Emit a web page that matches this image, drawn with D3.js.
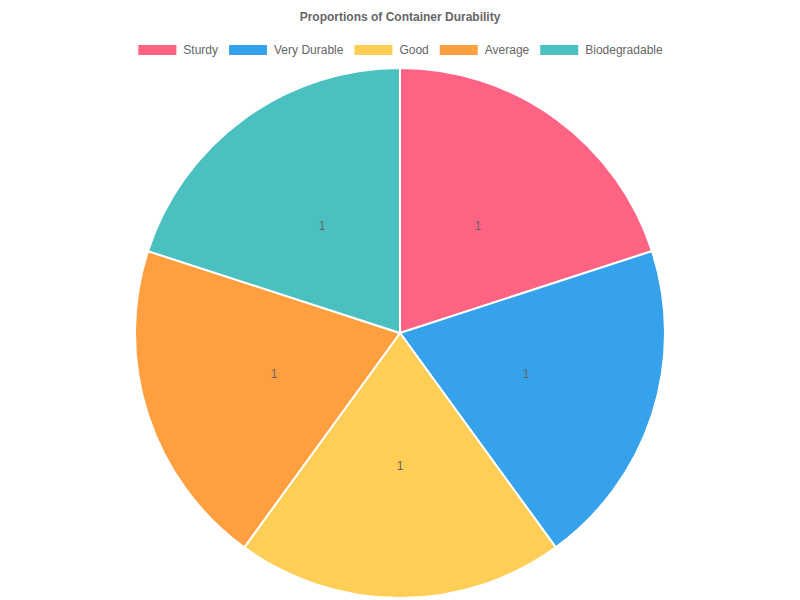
<!DOCTYPE html>
<html>
<head>
<meta charset="utf-8">
<script src="https://d3js.org/d3.v7.min.js"></script>
<style>
  body { margin: 0; background: #fff; }
  text { font-family: "Liberation Sans", Arial, Helvetica, sans-serif; }
</style>
</head>
<body>
<svg width="800" height="600"></svg>
<script>
// **** Data ****
var categories = ["Sturdy", "Very Durable", "Good", "Average", "Biodegradable"];
var values = [1, 1, 1, 1, 1];
var colors = ["#FF6384", "#36A2EB", "#FFCE56", "#FF9F40", "#4BC0C0"];

var svg = d3.select("svg");
var width = 800, cx = 400, cy = 333, radius = 265;

// title
svg.append("text")
    .attr("x", width / 2)
    .attr("y", 17)
    .attr("text-anchor", "middle")
    .attr("dominant-baseline", "central")
    .attr("font-size", 12)
    .attr("font-weight", "bold")
    .attr("fill", "#666")
    .text("Proportions of Container Durability");

// legend, laid out like chart.js: box 40, gap 6, padding 10
var legend = svg.append("g").attr("class", "legend");
var items = legend.selectAll("g.item")
    .data(categories)
    .enter()
    .append("g")
    .attr("class", "item");

items.append("rect")
    .attr("x", 1)
    .attr("width", 38)
    .attr("height", 10)
    .attr("y", 45)
    .attr("fill", function(d, i) { return colors[i]; });

items.append("text")
    .attr("x", 46)
    .attr("y", 50)
    .attr("dominant-baseline", "central")
    .attr("font-size", 12)
    .attr("fill", "#666")
    .text(function(d) { return d; });

var widths = [];
items.each(function() {
    widths.push(46 + d3.select(this).select("text").node().getComputedTextLength());
});
var total = d3.sum(widths) + 10 * (widths.length - 1);
var x = (width - total) / 2;
items.attr("transform", function(d, i) {
    var t = "translate(" + x + ",0)";
    x += widths[i] + 10;
    return t;
});

// pie
var pie = d3.pie().sort(null).value(function(d) { return d; });
var arc = d3.arc().innerRadius(0).outerRadius(radius);
var labelArc = d3.arc().innerRadius(radius / 2).outerRadius(radius / 2);

var g = svg.append("g").attr("transform", "translate(" + cx + "," + cy + ")");

var slices = g.selectAll("g.slice")
    .data(pie(values))
    .enter()
    .append("g")
    .attr("class", "slice");

slices.append("path")
    .attr("d", arc)
    .attr("fill", function(d, i) { return colors[i]; })
    .attr("stroke", "#fff")
    .attr("stroke-width", 2);

slices.append("text")
    .attr("transform", function(d) { return "translate(" + labelArc.centroid(d) + ")"; })
    .attr("text-anchor", "middle")
    .attr("dominant-baseline", "central")
    .attr("font-size", 12)
    .attr("fill", "#666")
    .text(function(d) { return d.data; });
</script>
</body>
</html>
